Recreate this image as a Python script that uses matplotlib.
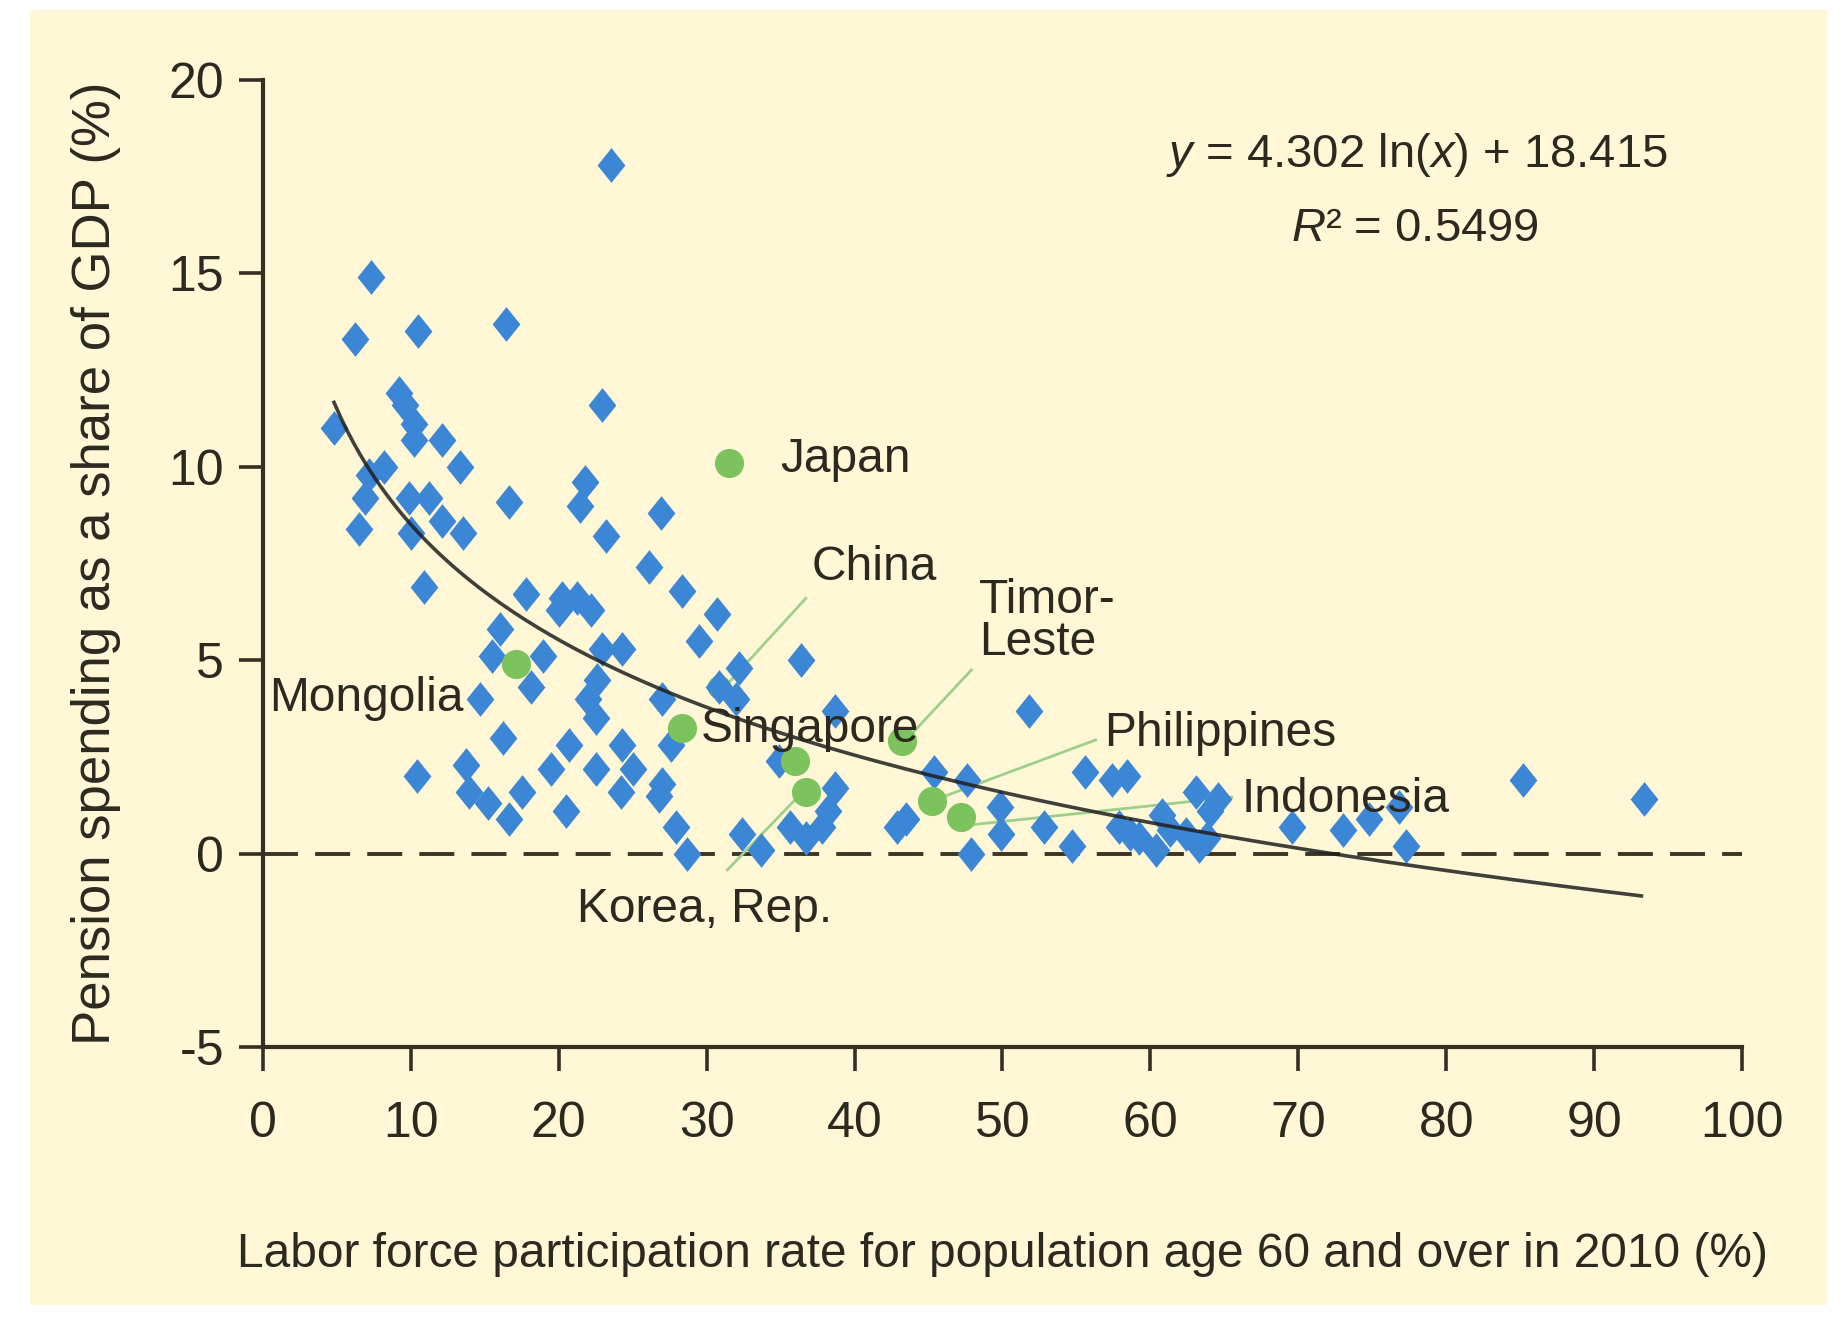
import numpy as np
import matplotlib.pyplot as plt
from matplotlib.path import Path
from matplotlib.patches import Rectangle

# labor force participation 60+ (%) vs pension spending (% of GDP), all other countries
other_x = [4.8, 6.2, 7.3, 6.5, 6.9, 7.2, 8.2, 9.2, 9.6, 9.9, 10.0, 10.2, 10.2, 10.5, 10.9,
           10.4, 11.2, 12.1, 12.1, 13.3, 13.5, 13.7, 13.9, 14.7, 15.2, 15.5, 16.0, 16.2,
           16.4, 16.6, 16.6, 17.5, 17.8, 18.1, 18.9, 19.5, 20.0, 20.2, 20.5, 20.7, 21.2,
           21.4, 21.8, 22.0, 22.2, 22.5, 22.6, 22.5, 22.9, 22.9, 23.2, 23.5, 24.2, 24.3,
           24.3, 25.0, 26.1, 26.8, 26.9, 27.0, 27.0, 27.6, 27.9, 28.3, 28.7, 29.5, 30.7,
           30.8, 32.0, 32.2, 32.4, 33.7, 34.9, 35.6, 36.4, 36.7, 37.8, 38.2, 38.7, 38.7,
           42.9, 43.5, 45.4, 47.6, 47.9, 49.8, 49.9, 51.8, 52.8, 54.7, 55.6, 57.4, 58.4,
           57.9, 58.6, 59.2, 60.4, 60.8, 61.3, 62.4, 63.1, 63.3, 63.8, 64.0, 64.6, 69.6,
           73.0, 74.8, 76.8, 77.3, 85.2, 93.4]
other_y = [11.0, 13.3, 14.9, 8.4, 9.2, 9.8, 10.0, 11.9, 11.6, 9.2, 8.3, 11.1, 10.7, 13.5, 6.9,
           2.0, 9.2, 10.7, 8.6, 10.0, 8.3, 2.3, 1.6, 4.0, 1.3, 5.1, 5.8, 3.0,
           13.7, 9.1, 0.9, 1.6, 6.7, 4.3, 5.1, 2.2, 6.3, 6.6, 1.1, 2.8, 6.6,
           9.0, 9.6, 4.0, 6.3, 3.5, 4.5, 2.2, 11.6, 5.3, 8.2, 17.8, 1.6, 5.3,
           2.8, 2.2, 7.4, 1.5, 8.8, 4.0, 1.8, 2.8, 0.7, 6.8, 0.0, 5.5, 6.2,
           4.3, 4.0, 4.8, 0.5, 0.1, 2.4, 0.7, 5.0, 0.4, 0.7, 1.1, 1.7, 3.7,
           0.7, 0.9, 2.1, 1.9, 0.0, 1.2, 0.5, 3.7, 0.7, 0.2, 2.1, 1.9, 2.0,
           0.7, 0.5, 0.4, 0.1, 1.0, 0.6, 0.5, 1.6, 0.2, 0.4, 1.1, 1.4, 0.7,
           0.6, 0.9, 1.2, 0.2, 1.9, 1.4]

# highlighted East Asian economies (green dots); China sits behind the diamonds
asia_x = [31.5, 17.1, 28.3, 36.0, 36.7, 43.2, 45.2, 47.2]
asia_y = [10.1, 4.9, 3.25, 2.4, 1.6, 2.9, 1.35, 0.95]
china_x = [30.8]
china_y = [4.3]

# country labels and where they sit
label_text = ["Japan", "China", "Timor-\nLeste", "Mongolia", "Singapore",
              "Philippines", "Indonesia", "Korea, Rep."]
label_x = [35.0, 37.1, 48.4, 0.4, 29.6, 56.9, 66.2, 21.2]
label_y = [10.2, 7.4, 6.0, 4.0, 3.2, 3.1, 1.4, -1.45]

# leader lines (x0, y0, x1, y1)
leaders = [(36.7, 6.6, 31.2, 4.3),
           (47.9, 4.75, 43.5, 2.95),
           (56.3, 2.94, 45.5, 1.4),
           (65.5, 1.46, 48.0, 0.75),
           (31.4, -0.42, 36.5, 1.6)]

# logarithmic trend line given on the chart
fit_a = -4.302
fit_b = 18.415
fit_x = np.linspace(4.8, 93.2, 200)
fit_y = fit_a * np.log(fit_x) + fit_b

plt.rcParams['font.family'] = ['Liberation Sans', 'DejaVu Sans']
plt.rcParams['mathtext.fontset'] = 'custom'
plt.rcParams['mathtext.rm'] = 'Liberation Sans'
plt.rcParams['mathtext.it'] = 'Liberation Sans:italic'
plt.rcParams['axes.unicode_minus'] = False

ink = '#2e2920'
cream = '#FFF7D6'
blue = '#3B87D6'
green = '#7CC35E'

fig = plt.figure(figsize=(18.43, 13.19), dpi=100)
fig.patches.append(Rectangle((0.0163, 0.0106), 0.975, 0.982, transform=fig.transFigure,
                             facecolor=cream, edgecolor='none', zorder=-10))
ax = fig.add_axes([0.1427, 0.2062, 0.8025, 0.7331])
ax.patch.set_alpha(0)

diamond = Path([(0, 1), (0.8, 0), (0, -1), (-0.8, 0), (0, 1)], closed=True)

ax.plot([0, 100], [0, 0], color='#3b3526', lw=2.8, dashes=(9, 4.4), zorder=1)
for x0, y0, x1, y1 in leaders:
    ax.plot([x0, x1], [y0, y1], color='#9DD08A', lw=2, zorder=2)
ax.plot(china_x, china_y, linestyle='none', marker='o', ms=17, color=green,
        markeredgewidth=0, zorder=2.5)
ax.plot(other_x, other_y, linestyle='none', marker=diamond, ms=25, color=blue,
        markeredgewidth=0, zorder=3)
ax.plot(asia_x, asia_y, linestyle='none', marker='o', ms=21, color=green,
        markeredgewidth=0, zorder=4)
ax.plot(fit_x, fit_y, color='#1f1f1f', lw=2.6, alpha=0.85, zorder=5)

for t, x, y in zip(label_text, label_x, label_y):
    ax.text(x, y, t, fontsize=34.5, color=ink, ha='left', va='center', zorder=6,
            linespacing=0.9)

ax.text(78.0, 18.05, r"$y$ = 4.302 ln($x$) + 18.415", fontsize=34, color=ink,
        ha='center', va='center')
ax.text(77.9, 16.15, r"$R$² = 0.5499", fontsize=34, color=ink, ha='center', va='center')

ax.set_xlim(0, 100)
ax.set_ylim(-5, 20)
ax.set_xticks(range(0, 101, 10))
ax.set_yticks(range(-5, 21, 5))
for side in ['top', 'right']:
    ax.spines[side].set_visible(False)
for side in ['left', 'bottom']:
    ax.spines[side].set_linewidth(3)
    ax.spines[side].set_color('#362f22')
ax.tick_params(axis='both', length=17, width=2.6, color='#362f22',
               labelsize=36, labelcolor=ink)
ax.tick_params(axis='y', pad=11)
ax.tick_params(axis='x', pad=22)

ax.set_xlabel("Labor force participation rate for population age 60 and over in 2010 (%)",
              fontsize=34.5, color=ink, labelpad=61)
ax.set_ylabel("Pension spending as a share of GDP (%)", fontsize=38, color=ink, labelpad=34)

fig.savefig('out.png', dpi=100)
